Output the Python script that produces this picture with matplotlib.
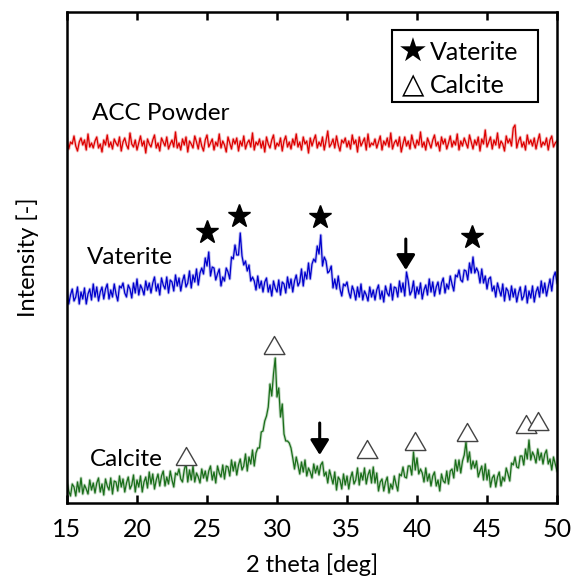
import numpy as np
import matplotlib
matplotlib.use("Agg")
import matplotlib.pyplot as plt
from matplotlib.patches import Rectangle

plt.rcParams["font.family"] = ["Lato", "DejaVu Sans"]

# ----------------------------------------------------
# Data read from the XRD patterns (arbitrary intensity)
# one value every 0.125 deg, 15.0 .. 50.0
# ----------------------------------------------------

two_theta = np.arange(281) * 0.125 + 15.0

acc_powder = [
    364, 354, 361, 359, 367, 357, 352, 361, 365, 358, 363, 353, 369, 356, 360, 355,
    362, 366, 355, 359, 351, 363, 358, 368, 356, 361, 354, 364, 360, 357, 366, 352,
    361, 365, 358, 354, 370, 359, 356, 363, 353, 360, 367, 357, 362, 350, 364, 359,
    356, 363, 368, 355, 360, 352, 365, 361, 357, 366, 354, 359, 363, 356, 371, 355,
    360, 353, 364, 358, 366, 351, 362, 359, 355, 367, 361, 354, 365, 357, 352, 363,
    368, 356, 360, 364, 353, 361, 357, 369, 355, 362, 358, 351, 366, 360, 354, 364,
    359, 365, 352, 362, 357, 367, 354, 360, 363, 356, 370, 353, 361, 358, 364, 355,
    362, 351, 366, 359, 355, 363, 368, 354, 360, 357, 365, 352, 362, 367, 356, 361,
    354, 364, 358, 369, 356, 361, 353, 366, 359, 362, 350, 365, 357, 363, 368, 355,
    361, 357, 366, 353, 362, 372, 356, 359, 364, 355, 367, 358, 352, 363, 360, 365,
    356, 362, 354, 368, 359, 363, 351, 366, 357, 361, 365, 353, 369, 356, 360, 358,
    364, 355, 361, 367, 353, 362, 358, 365, 356, 370, 354, 360, 363, 357, 366, 351,
    359, 366, 357, 362, 354, 368, 360, 355, 363, 358, 371, 356, 361, 353, 365, 360,
    355, 363, 368, 357, 361, 352, 366, 359, 364, 354, 360, 367, 356, 362, 358, 369,
    353, 362, 357, 365, 360, 355, 368, 361, 354, 363, 358, 366, 352, 364, 359, 373,
    356, 361, 366, 354, 363, 358, 370, 355, 362, 359, 352, 367, 360, 364, 357, 375,
    378, 355, 362, 366, 356, 361, 353, 368, 359, 363, 357, 365, 354, 362, 369, 356,
    361, 358, 365, 353, 363, 367, 356, 360, 362,
]

vaterite = [
    212, 199, 208, 214, 202, 206, 216, 199, 211, 204, 215, 199, 209, 214, 203, 219,
    206, 216, 202, 211, 216, 204, 214, 219, 204, 213, 206, 219, 209, 202, 217, 215,
    220, 210, 206, 218, 214, 205, 220, 210, 224, 208, 218, 214, 208, 222, 213, 220,
    210, 220, 226, 212, 219, 208, 225, 218, 214, 226, 210, 223, 221, 212, 228, 217,
    225, 212, 222, 228, 216, 220, 232, 215, 228, 221, 234, 218, 230, 235, 229, 245,
    237, 251, 227, 236, 235, 223, 229, 234, 217, 226, 222, 235, 231, 224, 246, 244,
    258, 248, 248, 270, 247, 238, 242, 232, 238, 222, 226, 222, 213, 227, 215, 222,
    211, 221, 225, 211, 218, 207, 222, 215, 211, 223, 208, 221, 219, 210, 226, 215,
    224, 211, 222, 228, 217, 221, 234, 217, 231, 224, 240, 224, 239, 244, 241, 257,
    249, 268, 237, 246, 242, 230, 232, 237, 215, 224, 214, 227, 214, 207, 219, 217,
    221, 211, 205, 217, 212, 203, 216, 206, 219, 203, 212, 208, 202, 216, 206, 213,
    203, 213, 218, 204, 212, 201, 217, 210, 207, 219, 203, 216, 215, 206, 222, 211,
    220, 207, 231, 222, 208, 212, 222, 205, 216, 209, 220, 204, 213, 218, 208, 224,
    211, 221, 207, 216, 221, 209, 220, 225, 210, 219, 214, 227, 219, 212, 228, 226,
    233, 223, 221, 233, 232, 223, 240, 230, 246, 230, 235, 231, 220, 234, 220, 227,
    214, 224, 226, 212, 217, 206, 220, 213, 207, 219, 202, 215, 212, 203, 217, 206,
    214, 201, 210, 216, 203, 207, 217, 200, 212, 205, 217, 201, 211, 216, 206, 222,
    210, 220, 207, 216, 224, 212, 226, 231, 220,
]

calcite = [
    22, 12, 7, 19, 16, 7, 21, 11, 25, 9, 18, 14, 9, 23, 13, 20,
    10, 20, 25, 11, 19, 8, 24, 17, 13, 25, 9, 22, 21, 12, 27, 16,
    24, 11, 20, 26, 14, 18, 28, 11, 23, 16, 27, 11, 21, 26, 15, 31,
    19, 29, 14, 23, 29, 17, 27, 32, 17, 26, 19, 32, 23, 16, 30, 28,
    34, 24, 21, 33, 40, 21, 33, 23, 37, 21, 30, 26, 20, 34, 25, 32,
    22, 32, 37, 23, 31, 20, 37, 30, 26, 38, 24, 37, 36, 27, 43, 32,
    41, 28, 38, 44, 33, 37, 49, 32, 46, 39, 53, 37, 50, 55, 55, 71,
    72, 82, 87, 96, 119, 107, 129, 145, 106, 115, 86, 99, 69, 62, 62, 60,
    55, 45, 34, 46, 38, 29, 41, 31, 43, 27, 35, 31, 25, 39, 30, 37,
    28, 38, 41, 27, 31, 20, 33, 26, 19, 31, 13, 26, 23, 14, 29, 18,
    27, 14, 25, 31, 19, 23, 35, 18, 30, 23, 35, 19, 28, 33, 20, 36,
    20, 30, 12, 21, 24, 12, 21, 26, 10, 19, 14, 27, 19, 12, 29, 27,
    36, 26, 25, 37, 37, 28, 51, 33, 45, 29, 34, 30, 21, 35, 22, 29,
    17, 27, 31, 17, 23, 12, 29, 22, 20, 32, 19, 32, 34, 25, 43, 32,
    43, 30, 42, 48, 61, 41, 51, 34, 42, 35, 42, 26, 32, 37, 23, 39,
    23, 33, 16, 25, 28, 16, 26, 31, 17, 26, 22, 35, 29, 22, 40, 38,
    46, 36, 35, 47, 47, 38, 54, 44, 63, 43, 51, 47, 40, 54, 43, 50,
    39, 49, 53, 39, 44, 33, 46, 39, 32,
]

# peak markers
vaterite_peaks_x = [25.0, 27.25, 33.05, 43.9]
vaterite_peaks_y = [271, 287, 286, 266]
calcite_peaks_x = [23.5, 29.8, 36.45, 39.85, 43.55, 47.8, 48.65]
calcite_peaks_y = [47, 158, 54, 62, 71, 79, 82]

# arrows (x, tail, tip)
arrows = [(39.2, 264, 233), (33.05, 80, 48)]

# ----------------------------------------------------
# Figure
# ----------------------------------------------------

fig = plt.figure(figsize=(5.74, 5.81), dpi=100)
ax = fig.add_axes([67 / 574, 78 / 581, 490 / 574, 491 / 581])

for series, col in [(acc_powder, "#dd0000"),
                    (vaterite, "#0000cc"),
                    (calcite, "#1a6e1a")]:
    # soft underlay gives the dense look of the raw scan
    ax.plot(two_theta, series, color=col, lw=2.2, alpha=0.25)
    ax.plot(two_theta, series, color=col, lw=0.9)

ax.plot(vaterite_peaks_x, vaterite_peaks_y, ls="none", marker="*",
        ms=17, color="black")

tri = [(-1, -0.866), (1, -0.866), (0, 0.866), (-1, -0.866)]
ax.plot(calcite_peaks_x, calcite_peaks_y, ls="none", marker=tri,
        ms=15, mfc="white", mec="#444444", mew=1.0)

for x, tail, tip in arrows:
    ax.annotate(
        "",
        xy=(x, tip),
        xytext=(x, tail),
        arrowprops=dict(
            arrowstyle="-|>,head_length=0.45,head_width=0.28",
            mutation_scale=20,
            lw=2.2,
            color="black",
            shrinkA=0,
            shrinkB=0,
        ),
    )

ax.text(16.8, 390, "ACC Powder", fontsize=17.5, ha="left", va="center")
ax.text(16.45, 245, "Vaterite", fontsize=17.5, ha="left", va="center")
ax.text(16.65, 43, "Calcite", fontsize=17.5, ha="left", va="center")

# legend box
ax.add_patch(Rectangle((0.663, 0.816), 0.298, 0.147, transform=ax.transAxes,
                       fill=False, ec="black", lw=1.5, zorder=5))
ax.text(0.706, 0.918, "★", transform=ax.transAxes, fontsize=24,
        ha="center", va="center", family=["DejaVu Sans"])
ax.text(0.741, 0.918, "Vaterite", transform=ax.transAxes, fontsize=18,
        ha="left", va="center")
ax.text(0.706, 0.851, "△", transform=ax.transAxes, fontsize=21,
        ha="center", va="center", family=["DejaVu Sans"])
ax.text(0.741, 0.851, "Calcite", transform=ax.transAxes, fontsize=18,
        ha="left", va="center")

# ----------------------------------------------------
# Axes
# ----------------------------------------------------

ax.set_xlim(15, 50)
ax.set_ylim(0, 491)
ax.set_xticks(np.arange(15, 51, 5))
ax.set_yticks([])
ax.tick_params(axis="x", direction="in", length=6, width=1.8,
               top=True, labelsize=18, pad=11)
for s in ax.spines.values():
    s.set_linewidth(1.8)

ax.set_xlabel("2 theta [deg]", fontsize=17, labelpad=9)
ax.set_ylabel("Intensity [-]", fontsize=17, labelpad=20)

fig.savefig("out.png", dpi=100)
